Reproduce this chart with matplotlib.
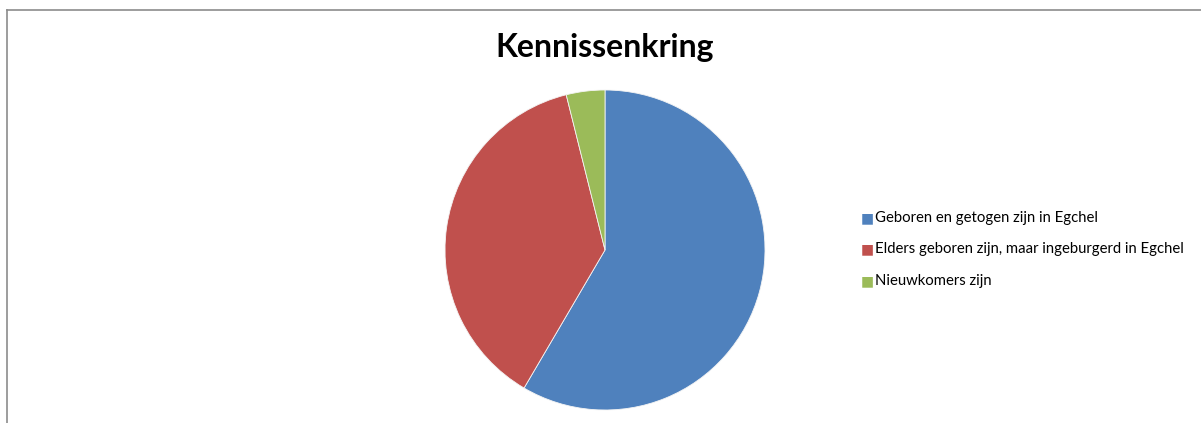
import matplotlib
matplotlib.use('Agg')
from matplotlib import pyplot as plt
from matplotlib.lines import Line2D

# data
labels = ['Geboren en getogen zijn in Egchel',
          'Elders geboren zijn, maar ingeburgerd in Egchel',
          'Nieuwkomers zijn']
values = [45, 29, 3]
colors = ['#4F81BD', '#C0504D', '#9BBB59']

plt.rcParams['font.family'] = ['Lato', 'DejaVu Sans']

W, H = 1201, 423
fig = plt.figure(figsize=(W / 100, H / 100), dpi=100)

# pie area in pixels: centre (605, 250), radius 160
ax = fig.add_axes([445 / W, (H - 410) / H, 320 / W, 320 / H])
ax.pie(values, colors=colors, startangle=90, counterclock=False,
       wedgeprops=dict(linewidth=0.6, edgecolor='#f4f4f4'))
ax.set_aspect('equal')
ax.set_xlim(-1, 1)
ax.set_ylim(-1, 1)
ax.axis('off')

fig.text(605 / W, 1 - 47 / H, 'Kennissenkring', ha='center', va='center',
         fontsize=23, fontweight='bold')

# legend
for i, lab in enumerate(labels):
    y = 1 - (218 + i * 31.5) / H
    fig.text(861 / W, y, '\u25A0', color=colors[i], ha='left', va='center',
             fontsize=10, family='DejaVu Sans')
    fig.text(875 / W, y, lab, ha='left', va='center', fontsize=10.75)

# chart border (top and left edges visible)
fig.add_artist(Line2D([6.5 / W, 1], [1 - 10.5 / H, 1 - 10.5 / H],
                      color='#8c8c8c', lw=1.2))
fig.add_artist(Line2D([6.5 / W, 6.5 / W], [0, 1 - 10.5 / H],
                      color='#8c8c8c', lw=1.2))

fig.savefig('out.png', dpi=100)
